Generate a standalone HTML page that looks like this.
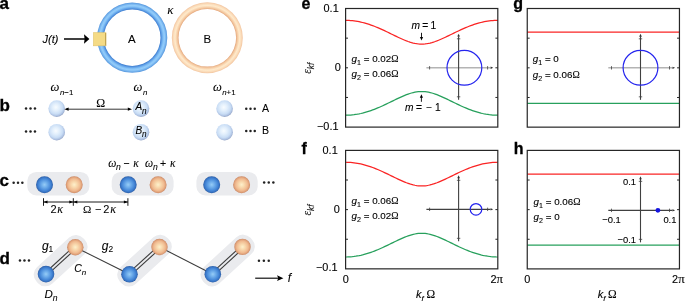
<!DOCTYPE html>
<html><head><meta charset="utf-8"><style>
html,body{margin:0;padding:0;background:#fff;}
svg{display:block;will-change:transform;font-family:"Liberation Sans",sans-serif;} text{stroke:#000;stroke-width:0.12px;} .L text{stroke-width:0.08px;} svg text[font-weight="bold"]{stroke-width:0.3px;}

</style></head><body>
<svg width="685" height="302" viewBox="0 0 685 302" font-family="Liberation Sans, sans-serif">
<defs>
<radialGradient id="sph" cx="0.45" cy="0.42" r="0.6">
 <stop offset="0" stop-color="#f8fcff"/><stop offset="0.35" stop-color="#e2effc"/><stop offset="0.68" stop-color="#c9ddf5"/><stop offset="0.86" stop-color="#afc3e3"/><stop offset="1" stop-color="#8d9dbf"/>
</radialGradient>
<radialGradient id="blu" cx="0.5" cy="0.5" r="0.5">
 <stop offset="0" stop-color="#96ccf6"/><stop offset="0.3" stop-color="#72b0ec"/><stop offset="0.7" stop-color="#4688d8"/><stop offset="0.9" stop-color="#3570c0"/><stop offset="1" stop-color="#2b5a9e"/>
</radialGradient>
<radialGradient id="org" cx="0.5" cy="0.5" r="0.5">
 <stop offset="0" stop-color="#fdf0cc"/><stop offset="0.3" stop-color="#f9dbb0"/><stop offset="0.7" stop-color="#f0ba90"/><stop offset="0.9" stop-color="#de9e76"/><stop offset="1" stop-color="#c48462"/>
</radialGradient>
</defs>
<g class="L">
<text x="-0.4" y="9.0" font-size="17" font-weight="bold">a</text>
<text x="42.5" y="42.6" font-size="11" font-style="italic">J(t)</text>
<line x1="64" y1="39" x2="85" y2="39" stroke="#000" stroke-width="1.5"/>
<path d="M84,34.2 L89.4,39 L84,43.8 L84.6,39 z" fill="#000"/>
<radialGradient id="rga" gradientUnits="userSpaceOnUse" cx="132.2" cy="37.7" r="35.1">
<stop offset="0.806" stop-color="#3f7fd0"/><stop offset="0.84" stop-color="#5d9de6"/><stop offset="0.885" stop-color="#84c2f6"/><stop offset="0.92" stop-color="#94ccfa"/><stop offset="0.96" stop-color="#76b4ee"/><stop offset="1" stop-color="#5494dc"/></radialGradient>
<radialGradient id="rgb" gradientUnits="userSpaceOnUse" cx="207.3" cy="37.8" r="35.5">
<stop offset="0.811" stop-color="#e4a67c"/><stop offset="0.835" stop-color="#f0c096"/><stop offset="0.875" stop-color="#fad8b4"/><stop offset="0.91" stop-color="#feeacb"/><stop offset="0.955" stop-color="#fbdcba"/><stop offset="1" stop-color="#f2c49e"/></radialGradient>
<path d="M97.1,37.7 a35.1,35.1 0 1,0 70.2,0 a35.1,35.1 0 1,0 -70.2,0 Z M103.89999999999999,37.7 a28.3,28.3 0 1,0 56.6,0 a28.3,28.3 0 1,0 -56.6,0 Z" fill-rule="evenodd" fill="url(#rga)"/>
<path d="M171.8,37.8 a35.5,35.5 0 1,0 71.0,0 a35.5,35.5 0 1,0 -71.0,0 Z M178.5,37.8 a28.8,28.8 0 1,0 57.6,0 a28.8,28.8 0 1,0 -57.6,0 Z" fill-rule="evenodd" fill="url(#rgb)"/>
<rect x="93.5" y="32.7" width="12.5" height="13.1" fill="#f5db86" stroke="#e2c36a" stroke-width="0.6"/>
<line x1="105.6" y1="33" x2="105.6" y2="45.6" stroke="#b89a48" stroke-width="0.9"/>
<text x="167.2" y="14" font-size="13" font-family="Liberation Serif, serif" font-style="italic">κ</text>
<text x="128" y="43.2" font-size="11.5" >A</text>
<text x="203.6" y="43.2" font-size="11.5" >B</text>
<text x="-0.6" y="110.9" font-size="17" font-weight="bold">b</text>
<circle cx="26.05" cy="108.5" r="1.25" fill="#222"/>
<circle cx="30.50" cy="108.5" r="1.25" fill="#222"/>
<circle cx="34.95" cy="108.5" r="1.25" fill="#222"/>
<circle cx="26.05" cy="131.4" r="1.25" fill="#222"/>
<circle cx="30.50" cy="131.4" r="1.25" fill="#222"/>
<circle cx="34.95" cy="131.4" r="1.25" fill="#222"/>
<circle cx="56.7" cy="108.6" r="8.3" fill="url(#sph)"/>
<circle cx="56.7" cy="132.2" r="8.3" fill="url(#sph)"/>
<circle cx="141" cy="108.6" r="8.3" fill="url(#sph)"/>
<circle cx="141" cy="132.2" r="8.3" fill="url(#sph)"/>
<circle cx="224.6" cy="108.6" r="8.3" fill="url(#sph)"/>
<circle cx="224.6" cy="132.2" r="8.3" fill="url(#sph)"/>
<circle cx="246.25" cy="108.7" r="1.25" fill="#222"/>
<circle cx="250.50" cy="108.7" r="1.25" fill="#222"/>
<circle cx="254.75" cy="108.7" r="1.25" fill="#222"/>
<circle cx="246.25" cy="131" r="1.25" fill="#222"/>
<circle cx="250.50" cy="131" r="1.25" fill="#222"/>
<circle cx="254.75" cy="131" r="1.25" fill="#222"/>
<text x="261.9" y="112" font-size="10.6" >A</text>
<text x="262.0" y="134.2" font-size="10.6" >B</text>
<text x="50.6" y="91.0" font-size="12.5" font-family="Liberation Serif, serif" font-style="italic">ω<tspan dy="3.9" dx="0.5" font-family="Liberation Sans, sans-serif" font-size="7.9">n<tspan font-style="normal">−1</tspan></tspan></text>
<text x="133.6" y="91.0" font-size="12.5" font-family="Liberation Serif, serif" font-style="italic">ω<tspan dy="3.9" dx="0.5" font-family="Liberation Sans, sans-serif" font-size="7.9">n</tspan></text>
<text x="212.9" y="91.0" font-size="12.5" font-family="Liberation Serif, serif" font-style="italic">ω<tspan dy="3.9" dx="0.5" font-family="Liberation Sans, sans-serif" font-size="7.9">n<tspan font-style="normal">+1</tspan></tspan></text>
<line x1="66" y1="109.2" x2="130" y2="109.2" stroke="#000" stroke-width="0.8"/>
<path d="M64.4,109.2 L68.6,107.6 L68.6,110.8 z" fill="#000"/><path d="M132,109.2 L127.8,107.6 L127.8,110.8 z" fill="#000"/>
<text x="96.2" y="107.1" font-size="12" font-family="Liberation Serif, serif">Ω</text>
<text x="135.4" y="110.3" font-size="10" font-style="italic">A<tspan dy="3.4" font-size="8.2">n</tspan></text>
<text x="135.4" y="133.5" font-size="10" font-style="italic">B<tspan dy="3.6" font-size="8.2">n</tspan></text>
<text x="-0.6" y="185.8" font-size="17" font-weight="bold">c</text>
<circle cx="13.65" cy="182.7" r="1.25" fill="#222"/>
<circle cx="18.00" cy="182.7" r="1.25" fill="#222"/>
<circle cx="22.35" cy="182.7" r="1.25" fill="#222"/>
<rect x="27.3" y="171.9" width="62.1" height="23.6" rx="9" fill="#eaebee"/>
<rect x="111.7" y="171.9" width="61.9" height="23.6" rx="9" fill="#eaebee"/>
<rect x="196.4" y="171.9" width="61.3" height="23.6" rx="9" fill="#eaebee"/>
<circle cx="44.5" cy="184.7" r="8.5" fill="url(#blu)"/>
<circle cx="74.2" cy="184.7" r="8.5" fill="url(#org)"/>
<circle cx="128.2" cy="184.7" r="8.5" fill="url(#blu)"/>
<circle cx="158.1" cy="184.7" r="8.5" fill="url(#org)"/>
<circle cx="211.7" cy="184.7" r="8.5" fill="url(#blu)"/>
<circle cx="241.6" cy="184.7" r="8.5" fill="url(#org)"/>
<circle cx="264.15" cy="182.4" r="1.25" fill="#222"/>
<circle cx="268.75" cy="182.4" r="1.25" fill="#222"/>
<circle cx="273.35" cy="182.4" r="1.25" fill="#222"/>
<g stroke="#000" stroke-width="0.9">
<line x1="43.5" y1="202" x2="127.9" y2="202"/>
<line x1="43.5" y1="198.2" x2="43.5" y2="205.8"/>
<line x1="73.3" y1="198.2" x2="73.3" y2="205.8"/>
<line x1="127.9" y1="198.2" x2="127.9" y2="205.8"/>
</g>
<path d="M43.5,202 L47.5,200.4 L47.5,203.6 z" fill="#000"/>
<path d="M73.3,202 L69.3,200.4 L69.3,203.6 z" fill="#000"/>
<path d="M73.3,202 L77.3,200.4 L77.3,203.6 z" fill="#000"/>
<path d="M127.9,202 L123.9,200.4 L123.9,203.6 z" fill="#000"/>
<text x="50.6" y="213.3" font-size="11" >2</text>
<text x="57.2" y="213.3" font-size="12" font-family="Liberation Serif, serif" font-style="italic">κ</text>
<text x="82.9" y="213.3" font-size="11.2" font-family="Liberation Serif, serif">Ω</text>
<text x="95.0" y="213.3" font-size="11" >−</text>
<text x="103.3" y="213.3" font-size="11" >2</text>
<text x="110.2" y="213.3" font-size="12" font-family="Liberation Serif, serif" font-style="italic">κ</text>
<text x="108.2" y="166.9" font-size="11.5" font-family="Liberation Serif, serif" font-style="italic">ω</text>
<text x="116.10000000000001" y="169.8" font-size="8.6" font-style="italic">n</text>
<text x="123.2" y="166.9" font-size="10.5" >−</text>
<text x="133.2" y="166.9" font-size="11.5" font-family="Liberation Serif, serif" font-style="italic">κ</text>
<text x="145.1" y="166.9" font-size="11.5" font-family="Liberation Serif, serif" font-style="italic">ω</text>
<text x="153.0" y="169.8" font-size="8.6" font-style="italic">n</text>
<text x="160.1" y="166.9" font-size="10.5" >+</text>
<text x="170.1" y="166.9" font-size="11.5" font-family="Liberation Serif, serif" font-style="italic">κ</text>
<text x="-0.6" y="264.1" font-size="17" font-weight="bold">d</text>
<circle cx="19.95" cy="260.5" r="1.25" fill="#222"/>
<circle cx="24.45" cy="260.5" r="1.25" fill="#222"/>
<circle cx="28.95" cy="260.5" r="1.25" fill="#222"/>
<rect x="28.76" y="249.40" width="63.78" height="22.5" rx="10" fill="#eaebee" transform="rotate(-42.55 60.65 260.65)"/>
<rect x="112.22" y="249.40" width="64.56" height="22.5" rx="10" fill="#eaebee" transform="rotate(-42.30 144.50 260.65)"/>
<rect x="195.48" y="249.30" width="64.34" height="22.5" rx="10" fill="#eaebee" transform="rotate(-42.59 227.65 260.55)"/>
<line x1="44.99" y1="273.00" x2="74.29" y2="246.10" stroke="#3a3a3a" stroke-width="1.1"/>
<line x1="47.01" y1="275.20" x2="76.31" y2="248.30" stroke="#3a3a3a" stroke-width="1.1"/>
<line x1="75.3" y1="247.2" x2="129.5" y2="274.3" stroke="#3a3a3a" stroke-width="1.05"/>
<line x1="128.49" y1="273.19" x2="158.49" y2="245.89" stroke="#3a3a3a" stroke-width="1.1"/>
<line x1="130.51" y1="275.41" x2="160.51" y2="248.11" stroke="#3a3a3a" stroke-width="1.1"/>
<line x1="159.5" y1="247.0" x2="212.8" y2="274.2" stroke="#3a3a3a" stroke-width="1.05"/>
<line x1="211.78" y1="273.10" x2="241.48" y2="245.80" stroke="#3a3a3a" stroke-width="1.1"/>
<line x1="213.82" y1="275.30" x2="243.52" y2="248.00" stroke="#3a3a3a" stroke-width="1.1"/>
<circle cx="46" cy="274.1" r="8.3" fill="url(#blu)"/>
<circle cx="75.3" cy="247.2" r="8.2" fill="url(#org)"/>
<circle cx="129.5" cy="274.3" r="8.3" fill="url(#blu)"/>
<circle cx="159.5" cy="247.0" r="8.2" fill="url(#org)"/>
<circle cx="212.8" cy="274.2" r="8.3" fill="url(#blu)"/>
<circle cx="242.5" cy="246.9" r="8.2" fill="url(#org)"/>
<text x="41.9" y="250" font-size="12" font-style="italic">g<tspan dy="2.4" font-size="8.4" font-style="normal">1</tspan></text>
<text x="101.7" y="250" font-size="12" font-style="italic">g<tspan dy="2.4" font-size="8.4" font-style="normal">2</tspan></text>
<text x="74.2" y="272" font-size="10.5" font-style="italic">C<tspan dy="2.5" font-size="8">n</tspan></text>
<text x="44.4" y="298" font-size="11.5" font-style="italic">D<tspan dy="3.3" font-size="8.6">n</tspan></text>
<circle cx="258.95" cy="260.8" r="1.25" fill="#222"/>
<circle cx="263.85" cy="260.8" r="1.25" fill="#222"/>
<circle cx="268.75" cy="260.8" r="1.25" fill="#222"/>
<line x1="255.2" y1="278.2" x2="279" y2="278.2" stroke="#111" stroke-width="1.2"/>
<path d="M283.4,278.2 L277,275.3 L278.3,278.2 L277,281.1 z" fill="#000"/>
<text x="287.7" y="281.9" font-size="12" font-style="italic">f</text>
</g>
<text x="301.6" y="8.7" font-size="16" font-weight="bold">e</text>
<path d="M345.60,20.36 L347.29,20.38 L348.98,20.45 L350.67,20.55 L352.36,20.71 L354.06,20.90 L355.75,21.14 L357.44,21.41 L359.13,21.73 L360.82,22.09 L362.51,22.49 L364.20,22.93 L365.89,23.40 L367.58,23.91 L369.28,24.46 L370.97,25.04 L372.66,25.65 L374.35,26.29 L376.04,26.97 L377.73,27.67 L379.42,28.39 L381.11,29.14 L382.80,29.90 L384.50,30.69 L386.19,31.49 L387.88,32.30 L389.57,33.12 L391.26,33.95 L392.95,34.78 L394.64,35.60 L396.33,36.42 L398.02,37.23 L399.72,38.02 L401.41,38.78 L403.10,39.52 L404.79,40.23 L406.48,40.90 L408.17,41.52 L409.86,42.08 L411.55,42.59 L413.24,43.03 L414.94,43.40 L416.63,43.69 L418.32,43.91 L420.01,44.04 L421.70,44.08 L423.39,44.04 L425.08,43.91 L426.77,43.69 L428.46,43.40 L430.16,43.03 L431.85,42.59 L433.54,42.08 L435.23,41.52 L436.92,40.90 L438.61,40.23 L440.30,39.52 L441.99,38.78 L443.68,38.02 L445.38,37.23 L447.07,36.42 L448.76,35.60 L450.45,34.78 L452.14,33.95 L453.83,33.12 L455.52,32.30 L457.21,31.49 L458.90,30.69 L460.60,29.90 L462.29,29.14 L463.98,28.39 L465.67,27.67 L467.36,26.97 L469.05,26.29 L470.74,25.65 L472.43,25.04 L474.12,24.46 L475.82,23.91 L477.51,23.40 L479.20,22.93 L480.89,22.49 L482.58,22.09 L484.27,21.73 L485.96,21.41 L487.65,21.14 L489.34,20.90 L491.04,20.71 L492.73,20.55 L494.42,20.45 L496.11,20.38 L497.80,20.36" fill="none" stroke="#fa2424" stroke-width="1.25"/>
<path d="M345.60,115.24 L347.29,115.22 L348.98,115.15 L350.67,115.05 L352.36,114.89 L354.06,114.70 L355.75,114.46 L357.44,114.19 L359.13,113.87 L360.82,113.51 L362.51,113.11 L364.20,112.67 L365.89,112.20 L367.58,111.69 L369.28,111.14 L370.97,110.56 L372.66,109.95 L374.35,109.31 L376.04,108.63 L377.73,107.93 L379.42,107.21 L381.11,106.46 L382.80,105.70 L384.50,104.91 L386.19,104.11 L387.88,103.30 L389.57,102.48 L391.26,101.65 L392.95,100.82 L394.64,100.00 L396.33,99.18 L398.02,98.37 L399.72,97.58 L401.41,96.82 L403.10,96.08 L404.79,95.37 L406.48,94.70 L408.17,94.08 L409.86,93.52 L411.55,93.01 L413.24,92.57 L414.94,92.20 L416.63,91.91 L418.32,91.69 L420.01,91.56 L421.70,91.52 L423.39,91.56 L425.08,91.69 L426.77,91.91 L428.46,92.20 L430.16,92.57 L431.85,93.01 L433.54,93.52 L435.23,94.08 L436.92,94.70 L438.61,95.37 L440.30,96.08 L441.99,96.82 L443.68,97.58 L445.38,98.37 L447.07,99.18 L448.76,100.00 L450.45,100.82 L452.14,101.65 L453.83,102.48 L455.52,103.30 L457.21,104.11 L458.90,104.91 L460.60,105.70 L462.29,106.46 L463.98,107.21 L465.67,107.93 L467.36,108.63 L469.05,109.31 L470.74,109.95 L472.43,110.56 L474.12,111.14 L475.82,111.69 L477.51,112.20 L479.20,112.67 L480.89,113.11 L482.58,113.51 L484.27,113.87 L485.96,114.19 L487.65,114.46 L489.34,114.70 L491.04,114.89 L492.73,115.05 L494.42,115.15 L496.11,115.22 L497.80,115.24" fill="none" stroke="#27a05c" stroke-width="1.25"/>
<rect x="345.6" y="8.5" width="152.20" height="118.60" fill="none" stroke="#262626" stroke-width="1.2"/>
<line x1="345.6" y1="38.15" x2="348.0" y2="38.15" stroke="#262626" stroke-width="1"/>
<line x1="495.40000000000003" y1="38.15" x2="497.8" y2="38.15" stroke="#262626" stroke-width="1"/>
<line x1="345.6" y1="67.80" x2="348.0" y2="67.80" stroke="#262626" stroke-width="1"/>
<line x1="495.40000000000003" y1="67.80" x2="497.8" y2="67.80" stroke="#262626" stroke-width="1"/>
<line x1="345.6" y1="97.45" x2="348.0" y2="97.45" stroke="#262626" stroke-width="1"/>
<line x1="495.40000000000003" y1="97.45" x2="497.8" y2="97.45" stroke="#262626" stroke-width="1"/>
<text x="338.7" y="11.8" font-size="10.9" text-anchor="end">0.1</text>
<text x="340.8" y="71.3" font-size="10.9" text-anchor="end">0</text>
<text x="338.5" y="130.3" font-size="10.9" text-anchor="end">−0.1</text>
<text transform="translate(311.1 73.7) rotate(-90)" font-size="11.5" font-family="Liberation Serif, serif" font-style="italic" fill="#222">ε<tspan dy="3" font-family="Liberation Sans, sans-serif" font-size="8.4">kf</tspan></text>
<line x1="426.40000000000003" y1="67.8" x2="490.6" y2="67.8" stroke="#b4b4b4" stroke-width="1.5"/>
<path d="M493.20000000000005,67.8 L490.6,66.6 L490.6,69.0 z" fill="#303030"/>
<line x1="429.6" y1="66.1" x2="429.6" y2="69.5" stroke="#404040" stroke-width="0.8"/>
<line x1="456.90000000000003" y1="38.8" x2="460.3" y2="38.8" stroke="#404040" stroke-width="0.8"/>
<line x1="487.6" y1="66.1" x2="487.6" y2="69.5" stroke="#404040" stroke-width="0.8"/>
<line x1="456.90000000000003" y1="96.8" x2="460.3" y2="96.8" stroke="#404040" stroke-width="0.8"/>
<line x1="458.6" y1="36.3" x2="458.6" y2="99.8" stroke="#404040" stroke-width="1.1"/>
<path d="M458.6,33.8 L457.3,36.599999999999994 L459.90000000000003,36.599999999999994 z" fill="#303030"/>
<circle cx="464.40" cy="67.8" r="17.40" fill="none" stroke="#2424ee" stroke-width="1.2"/>
<text x="301.6" y="154.2" font-size="16" font-weight="bold">f</text>
<path d="M345.60,162.25 L347.29,162.27 L348.98,162.33 L350.67,162.44 L352.36,162.59 L354.06,162.78 L355.75,163.02 L357.44,163.30 L359.13,163.61 L360.82,163.97 L362.51,164.37 L364.20,164.81 L365.89,165.28 L367.58,165.79 L369.28,166.34 L370.97,166.92 L372.66,167.53 L374.35,168.17 L376.04,168.84 L377.73,169.54 L379.42,170.26 L381.11,171.01 L382.80,171.78 L384.50,172.56 L386.19,173.36 L387.88,174.17 L389.57,174.99 L391.26,175.82 L392.95,176.64 L394.64,177.47 L396.33,178.29 L398.02,179.09 L399.72,179.88 L401.41,180.65 L403.10,181.39 L404.79,182.09 L406.48,182.76 L408.17,183.37 L409.86,183.94 L411.55,184.45 L413.24,184.89 L414.94,185.26 L416.63,185.55 L418.32,185.76 L420.01,185.89 L421.70,185.94 L423.39,185.89 L425.08,185.76 L426.77,185.55 L428.46,185.26 L430.16,184.89 L431.85,184.45 L433.54,183.94 L435.23,183.37 L436.92,182.76 L438.61,182.09 L440.30,181.39 L441.99,180.65 L443.68,179.88 L445.38,179.09 L447.07,178.29 L448.76,177.47 L450.45,176.64 L452.14,175.82 L453.83,174.99 L455.52,174.17 L457.21,173.36 L458.90,172.56 L460.60,171.78 L462.29,171.01 L463.98,170.26 L465.67,169.54 L467.36,168.84 L469.05,168.17 L470.74,167.53 L472.43,166.92 L474.12,166.34 L475.82,165.79 L477.51,165.28 L479.20,164.81 L480.89,164.37 L482.58,163.97 L484.27,163.61 L485.96,163.30 L487.65,163.02 L489.34,162.78 L491.04,162.59 L492.73,162.44 L494.42,162.33 L496.11,162.27 L497.80,162.25" fill="none" stroke="#fa2424" stroke-width="1.25"/>
<path d="M345.60,257.00 L347.29,256.98 L348.98,256.92 L350.67,256.81 L352.36,256.66 L354.06,256.47 L355.75,256.23 L357.44,255.95 L359.13,255.64 L360.82,255.28 L362.51,254.88 L364.20,254.44 L365.89,253.97 L367.58,253.46 L369.28,252.91 L370.97,252.33 L372.66,251.72 L374.35,251.08 L376.04,250.41 L377.73,249.71 L379.42,248.99 L381.11,248.24 L382.80,247.47 L384.50,246.69 L386.19,245.89 L387.88,245.08 L389.57,244.26 L391.26,243.43 L392.95,242.61 L394.64,241.78 L396.33,240.96 L398.02,240.16 L399.72,239.37 L401.41,238.60 L403.10,237.86 L404.79,237.16 L406.48,236.49 L408.17,235.88 L409.86,235.31 L411.55,234.80 L413.24,234.36 L414.94,233.99 L416.63,233.70 L418.32,233.49 L420.01,233.36 L421.70,233.31 L423.39,233.36 L425.08,233.49 L426.77,233.70 L428.46,233.99 L430.16,234.36 L431.85,234.80 L433.54,235.31 L435.23,235.88 L436.92,236.49 L438.61,237.16 L440.30,237.86 L441.99,238.60 L443.68,239.37 L445.38,240.16 L447.07,240.96 L448.76,241.78 L450.45,242.61 L452.14,243.43 L453.83,244.26 L455.52,245.08 L457.21,245.89 L458.90,246.69 L460.60,247.47 L462.29,248.24 L463.98,248.99 L465.67,249.71 L467.36,250.41 L469.05,251.08 L470.74,251.72 L472.43,252.33 L474.12,252.91 L475.82,253.46 L477.51,253.97 L479.20,254.44 L480.89,254.88 L482.58,255.28 L484.27,255.64 L485.96,255.95 L487.65,256.23 L489.34,256.47 L491.04,256.66 L492.73,256.81 L494.42,256.92 L496.11,256.98 L497.80,257.00" fill="none" stroke="#27a05c" stroke-width="1.25"/>
<rect x="345.6" y="150.4" width="152.20" height="118.45" fill="none" stroke="#262626" stroke-width="1.2"/>
<line x1="345.6" y1="180.01" x2="348.0" y2="180.01" stroke="#262626" stroke-width="1"/>
<line x1="495.40000000000003" y1="180.01" x2="497.8" y2="180.01" stroke="#262626" stroke-width="1"/>
<line x1="345.6" y1="209.62" x2="348.0" y2="209.62" stroke="#262626" stroke-width="1"/>
<line x1="495.40000000000003" y1="209.62" x2="497.8" y2="209.62" stroke="#262626" stroke-width="1"/>
<line x1="345.6" y1="239.24" x2="348.0" y2="239.24" stroke="#262626" stroke-width="1"/>
<line x1="495.40000000000003" y1="239.24" x2="497.8" y2="239.24" stroke="#262626" stroke-width="1"/>
<text x="337.7" y="153.8" font-size="10.9" text-anchor="end">0.1</text>
<text x="339.9" y="212.7" font-size="10.9" text-anchor="end">0</text>
<text x="337.5" y="271.3" font-size="10.9" text-anchor="end">−0.1</text>
<text transform="translate(311.1 215.5) rotate(-90)" font-size="11.5" font-family="Liberation Serif, serif" font-style="italic" fill="#222">ε<tspan dy="3" font-family="Liberation Sans, sans-serif" font-size="8.4">kf</tspan></text>
<text x="345.70000000000005" y="283.2" font-size="10.9" text-anchor="middle">0</text>
<text x="490.4" y="283.2" font-size="10.9">2<tspan font-family="Liberation Serif, serif" font-size="12.8">π</tspan></text>
<text x="416.1" y="298.2" font-size="11" font-style="italic">k<tspan dy="2.4" font-size="8">f</tspan></text>
<text x="426.4" y="298.2" font-size="11.6" font-family="Liberation Serif, serif">Ω</text>
<line x1="426.40000000000003" y1="209.325" x2="490.6" y2="209.325" stroke="#404040" stroke-width="1.1"/>
<path d="M493.20000000000005,209.325 L490.6,208.125 L490.6,210.52499999999998 z" fill="#303030"/>
<line x1="429.6" y1="207.625" x2="429.6" y2="211.02499999999998" stroke="#404040" stroke-width="0.8"/>
<line x1="456.90000000000003" y1="180.325" x2="460.3" y2="180.325" stroke="#404040" stroke-width="0.8"/>
<line x1="487.6" y1="207.625" x2="487.6" y2="211.02499999999998" stroke="#404040" stroke-width="0.8"/>
<line x1="456.90000000000003" y1="238.325" x2="460.3" y2="238.325" stroke="#404040" stroke-width="0.8"/>
<line x1="458.6" y1="177.825" x2="458.6" y2="241.325" stroke="#404040" stroke-width="1.1"/>
<path d="M458.6,175.325 L457.3,178.125 L459.90000000000003,178.125 z" fill="#303030"/>
<circle cx="476.00" cy="209.325" r="5.80" fill="none" stroke="#2424ee" stroke-width="1.2"/>
<text x="513.3" y="9.2" font-size="16" font-weight="bold">g</text>
<path d="M527.25,32.23 L528.94,32.23 L530.63,32.23 L532.32,32.23 L534.01,32.23 L535.71,32.23 L537.40,32.23 L539.09,32.23 L540.78,32.23 L542.47,32.23 L544.16,32.23 L545.85,32.23 L547.54,32.23 L549.23,32.23 L550.93,32.23 L552.62,32.23 L554.31,32.23 L556.00,32.23 L557.69,32.23 L559.38,32.23 L561.07,32.23 L562.76,32.23 L564.45,32.23 L566.15,32.23 L567.84,32.23 L569.53,32.23 L571.22,32.23 L572.91,32.23 L574.60,32.23 L576.29,32.23 L577.98,32.23 L579.67,32.23 L581.37,32.23 L583.06,32.23 L584.75,32.23 L586.44,32.23 L588.13,32.23 L589.82,32.23 L591.51,32.23 L593.20,32.23 L594.89,32.23 L596.59,32.23 L598.28,32.23 L599.97,32.23 L601.66,32.23 L603.35,32.23 L605.04,32.23 L606.73,32.23 L608.42,32.23 L610.11,32.23 L611.81,32.23 L613.50,32.23 L615.19,32.23 L616.88,32.23 L618.57,32.23 L620.26,32.23 L621.95,32.23 L623.64,32.23 L625.33,32.23 L627.03,32.23 L628.72,32.23 L630.41,32.23 L632.10,32.23 L633.79,32.23 L635.48,32.23 L637.17,32.23 L638.86,32.23 L640.55,32.23 L642.25,32.23 L643.94,32.23 L645.63,32.23 L647.32,32.23 L649.01,32.23 L650.70,32.23 L652.39,32.23 L654.08,32.23 L655.77,32.23 L657.47,32.23 L659.16,32.23 L660.85,32.23 L662.54,32.23 L664.23,32.23 L665.92,32.23 L667.61,32.23 L669.30,32.23 L670.99,32.23 L672.69,32.23 L674.38,32.23 L676.07,32.23 L677.76,32.23 L679.45,32.23" fill="none" stroke="#fa2424" stroke-width="1.25"/>
<path d="M527.25,103.42 L528.94,103.42 L530.63,103.42 L532.32,103.42 L534.01,103.42 L535.71,103.42 L537.40,103.42 L539.09,103.42 L540.78,103.42 L542.47,103.42 L544.16,103.42 L545.85,103.42 L547.54,103.42 L549.23,103.42 L550.93,103.42 L552.62,103.42 L554.31,103.42 L556.00,103.42 L557.69,103.42 L559.38,103.42 L561.07,103.42 L562.76,103.42 L564.45,103.42 L566.15,103.42 L567.84,103.42 L569.53,103.42 L571.22,103.42 L572.91,103.42 L574.60,103.42 L576.29,103.42 L577.98,103.42 L579.67,103.42 L581.37,103.42 L583.06,103.42 L584.75,103.42 L586.44,103.42 L588.13,103.42 L589.82,103.42 L591.51,103.42 L593.20,103.42 L594.89,103.42 L596.59,103.42 L598.28,103.42 L599.97,103.42 L601.66,103.42 L603.35,103.42 L605.04,103.42 L606.73,103.42 L608.42,103.42 L610.11,103.42 L611.81,103.42 L613.50,103.42 L615.19,103.42 L616.88,103.42 L618.57,103.42 L620.26,103.42 L621.95,103.42 L623.64,103.42 L625.33,103.42 L627.03,103.42 L628.72,103.42 L630.41,103.42 L632.10,103.42 L633.79,103.42 L635.48,103.42 L637.17,103.42 L638.86,103.42 L640.55,103.42 L642.25,103.42 L643.94,103.42 L645.63,103.42 L647.32,103.42 L649.01,103.42 L650.70,103.42 L652.39,103.42 L654.08,103.42 L655.77,103.42 L657.47,103.42 L659.16,103.42 L660.85,103.42 L662.54,103.42 L664.23,103.42 L665.92,103.42 L667.61,103.42 L669.30,103.42 L670.99,103.42 L672.69,103.42 L674.38,103.42 L676.07,103.42 L677.76,103.42 L679.45,103.42" fill="none" stroke="#27a05c" stroke-width="1.25"/>
<rect x="527.25" y="8.5" width="152.20" height="118.65" fill="none" stroke="#262626" stroke-width="1.2"/>
<line x1="527.25" y1="38.16" x2="529.65" y2="38.16" stroke="#262626" stroke-width="1"/>
<line x1="677.0500000000001" y1="38.16" x2="679.45" y2="38.16" stroke="#262626" stroke-width="1"/>
<line x1="527.25" y1="67.83" x2="529.65" y2="67.83" stroke="#262626" stroke-width="1"/>
<line x1="677.0500000000001" y1="67.83" x2="679.45" y2="67.83" stroke="#262626" stroke-width="1"/>
<line x1="527.25" y1="97.49" x2="529.65" y2="97.49" stroke="#262626" stroke-width="1"/>
<line x1="677.0500000000001" y1="97.49" x2="679.45" y2="97.49" stroke="#262626" stroke-width="1"/>
<line x1="608.3" y1="67.825" x2="672.5" y2="67.825" stroke="#b4b4b4" stroke-width="1.5"/>
<path d="M675.1,67.825 L672.5,66.625 L672.5,69.025 z" fill="#303030"/>
<line x1="611.5" y1="66.125" x2="611.5" y2="69.525" stroke="#404040" stroke-width="0.8"/>
<line x1="638.8" y1="38.825" x2="642.2" y2="38.825" stroke="#404040" stroke-width="0.8"/>
<line x1="669.5" y1="66.125" x2="669.5" y2="69.525" stroke="#404040" stroke-width="0.8"/>
<line x1="638.8" y1="96.825" x2="642.2" y2="96.825" stroke="#404040" stroke-width="0.8"/>
<line x1="640.5" y1="36.325" x2="640.5" y2="99.825" stroke="#404040" stroke-width="1.1"/>
<path d="M640.5,33.825 L639.2,36.625 L641.8,36.625 z" fill="#303030"/>
<circle cx="640.50" cy="67.825" r="17.40" fill="none" stroke="#2424ee" stroke-width="1.2"/>
<text x="513.8" y="153.6" font-size="16" font-weight="bold">h</text>
<path d="M527.25,174.10 L528.94,174.10 L530.63,174.10 L532.32,174.10 L534.01,174.10 L535.71,174.10 L537.40,174.10 L539.09,174.10 L540.78,174.10 L542.47,174.10 L544.16,174.10 L545.85,174.10 L547.54,174.10 L549.23,174.10 L550.93,174.10 L552.62,174.10 L554.31,174.10 L556.00,174.10 L557.69,174.10 L559.38,174.10 L561.07,174.10 L562.76,174.10 L564.45,174.10 L566.15,174.10 L567.84,174.10 L569.53,174.10 L571.22,174.10 L572.91,174.10 L574.60,174.10 L576.29,174.10 L577.98,174.10 L579.67,174.10 L581.37,174.10 L583.06,174.10 L584.75,174.10 L586.44,174.10 L588.13,174.10 L589.82,174.10 L591.51,174.10 L593.20,174.10 L594.89,174.10 L596.59,174.10 L598.28,174.10 L599.97,174.10 L601.66,174.10 L603.35,174.10 L605.04,174.10 L606.73,174.10 L608.42,174.10 L610.11,174.10 L611.81,174.10 L613.50,174.10 L615.19,174.10 L616.88,174.10 L618.57,174.10 L620.26,174.10 L621.95,174.10 L623.64,174.10 L625.33,174.10 L627.03,174.10 L628.72,174.10 L630.41,174.10 L632.10,174.10 L633.79,174.10 L635.48,174.10 L637.17,174.10 L638.86,174.10 L640.55,174.10 L642.25,174.10 L643.94,174.10 L645.63,174.10 L647.32,174.10 L649.01,174.10 L650.70,174.10 L652.39,174.10 L654.08,174.10 L655.77,174.10 L657.47,174.10 L659.16,174.10 L660.85,174.10 L662.54,174.10 L664.23,174.10 L665.92,174.10 L667.61,174.10 L669.30,174.10 L670.99,174.10 L672.69,174.10 L674.38,174.10 L676.07,174.10 L677.76,174.10 L679.45,174.10" fill="none" stroke="#fa2424" stroke-width="1.25"/>
<path d="M527.25,245.20 L528.94,245.20 L530.63,245.20 L532.32,245.20 L534.01,245.20 L535.71,245.20 L537.40,245.20 L539.09,245.20 L540.78,245.20 L542.47,245.20 L544.16,245.20 L545.85,245.20 L547.54,245.20 L549.23,245.20 L550.93,245.20 L552.62,245.20 L554.31,245.20 L556.00,245.20 L557.69,245.20 L559.38,245.20 L561.07,245.20 L562.76,245.20 L564.45,245.20 L566.15,245.20 L567.84,245.20 L569.53,245.20 L571.22,245.20 L572.91,245.20 L574.60,245.20 L576.29,245.20 L577.98,245.20 L579.67,245.20 L581.37,245.20 L583.06,245.20 L584.75,245.20 L586.44,245.20 L588.13,245.20 L589.82,245.20 L591.51,245.20 L593.20,245.20 L594.89,245.20 L596.59,245.20 L598.28,245.20 L599.97,245.20 L601.66,245.20 L603.35,245.20 L605.04,245.20 L606.73,245.20 L608.42,245.20 L610.11,245.20 L611.81,245.20 L613.50,245.20 L615.19,245.20 L616.88,245.20 L618.57,245.20 L620.26,245.20 L621.95,245.20 L623.64,245.20 L625.33,245.20 L627.03,245.20 L628.72,245.20 L630.41,245.20 L632.10,245.20 L633.79,245.20 L635.48,245.20 L637.17,245.20 L638.86,245.20 L640.55,245.20 L642.25,245.20 L643.94,245.20 L645.63,245.20 L647.32,245.20 L649.01,245.20 L650.70,245.20 L652.39,245.20 L654.08,245.20 L655.77,245.20 L657.47,245.20 L659.16,245.20 L660.85,245.20 L662.54,245.20 L664.23,245.20 L665.92,245.20 L667.61,245.20 L669.30,245.20 L670.99,245.20 L672.69,245.20 L674.38,245.20 L676.07,245.20 L677.76,245.20 L679.45,245.20" fill="none" stroke="#27a05c" stroke-width="1.25"/>
<rect x="527.25" y="150.4" width="152.20" height="118.50" fill="none" stroke="#262626" stroke-width="1.2"/>
<line x1="527.25" y1="180.02" x2="529.65" y2="180.02" stroke="#262626" stroke-width="1"/>
<line x1="677.0500000000001" y1="180.02" x2="679.45" y2="180.02" stroke="#262626" stroke-width="1"/>
<line x1="527.25" y1="209.65" x2="529.65" y2="209.65" stroke="#262626" stroke-width="1"/>
<line x1="677.0500000000001" y1="209.65" x2="679.45" y2="209.65" stroke="#262626" stroke-width="1"/>
<line x1="527.25" y1="239.27" x2="529.65" y2="239.27" stroke="#262626" stroke-width="1"/>
<line x1="677.0500000000001" y1="239.27" x2="679.45" y2="239.27" stroke="#262626" stroke-width="1"/>
<text x="527.35" y="283.2" font-size="10.9" text-anchor="middle">0</text>
<text x="672.1" y="283.2" font-size="10.9">2<tspan font-family="Liberation Serif, serif" font-size="12.8">π</tspan></text>
<text x="597.8" y="298.2" font-size="11" font-style="italic">k<tspan dy="2.4" font-size="8">f</tspan></text>
<text x="608.1" y="298.2" font-size="11.6" font-family="Liberation Serif, serif">Ω</text>
<line x1="608.3" y1="210.34999999999997" x2="672.5" y2="210.34999999999997" stroke="#404040" stroke-width="1.1"/>
<path d="M675.1,210.34999999999997 L672.5,209.14999999999998 L672.5,211.54999999999995 z" fill="#303030"/>
<line x1="611.5" y1="208.64999999999998" x2="611.5" y2="212.04999999999995" stroke="#404040" stroke-width="0.8"/>
<line x1="638.8" y1="181.34999999999997" x2="642.2" y2="181.34999999999997" stroke="#404040" stroke-width="0.8"/>
<line x1="669.5" y1="208.64999999999998" x2="669.5" y2="212.04999999999995" stroke="#404040" stroke-width="0.8"/>
<line x1="638.8" y1="239.34999999999997" x2="642.2" y2="239.34999999999997" stroke="#404040" stroke-width="0.8"/>
<line x1="640.5" y1="178.84999999999997" x2="640.5" y2="242.34999999999997" stroke="#404040" stroke-width="1.1"/>
<path d="M640.5,176.34999999999997 L639.2,179.14999999999998 L641.8,179.14999999999998 z" fill="#303030"/>
<circle cx="657.90" cy="210.34999999999997" r="2.4" fill="#1414e0"/>
<text x="351.6" y="62.2" font-size="9.8"><tspan font-style="italic">g</tspan><tspan dy="2.9" font-size="7.1">1</tspan><tspan dy="-2.9"> = 0.02<tspan font-family="Liberation Serif, serif">Ω</tspan></tspan></text>
<text x="351.6" y="77.4" font-size="9.8"><tspan font-style="italic">g</tspan><tspan dy="2.9" font-size="7.1">2</tspan><tspan dy="-2.9"> = 0.06<tspan font-family="Liberation Serif, serif">Ω</tspan></tspan></text>
<text x="351.6" y="204.0" font-size="9.8"><tspan font-style="italic">g</tspan><tspan dy="2.9" font-size="7.1">1</tspan><tspan dy="-2.9"> = 0.06<tspan font-family="Liberation Serif, serif">Ω</tspan></tspan></text>
<text x="351.6" y="219.2" font-size="9.8"><tspan font-style="italic">g</tspan><tspan dy="2.9" font-size="7.1">2</tspan><tspan dy="-2.9"> = 0.02<tspan font-family="Liberation Serif, serif">Ω</tspan></tspan></text>
<text x="532.8" y="62.4" font-size="9.8"><tspan font-style="italic">g</tspan><tspan dy="2.9" font-size="7.1">1</tspan><tspan dy="-2.9"> = 0</tspan></text>
<text x="532.8" y="77.6" font-size="9.8"><tspan font-style="italic">g</tspan><tspan dy="2.9" font-size="7.1">2</tspan><tspan dy="-2.9"> = 0.06<tspan font-family="Liberation Serif, serif">Ω</tspan></tspan></text>
<text x="533.6" y="205.0" font-size="9.8"><tspan font-style="italic">g</tspan><tspan dy="2.9" font-size="7.1">1</tspan><tspan dy="-2.9"> = 0.06<tspan font-family="Liberation Serif, serif">Ω</tspan></tspan></text>
<text x="533.6" y="220.2" font-size="9.8"><tspan font-style="italic">g</tspan><tspan dy="2.9" font-size="7.1">2</tspan><tspan dy="-2.9"> = 0</tspan></text>
<text x="411.4" y="28.8" font-size="10.2" font-style="italic">m</text><text x="422.3" y="28.8" font-size="10.2">=</text><text x="430.4" y="28.8" font-size="10.2">1</text>
<text x="404.9" y="110.6" font-size="10.2" font-style="italic">m</text><text x="415.9" y="110.6" font-size="10.2">=</text><text x="426.3" y="110.6" font-size="10.2">−</text><text x="435.0" y="110.6" font-size="10.2">1</text>
<line x1="421.5" y1="32.8" x2="421.5" y2="37.6" stroke="#000" stroke-width="0.9"/><path d="M421.5,40.6 L419.9,37 L423.1,37 z" fill="#000"/>
<line x1="421.4" y1="101.8" x2="421.4" y2="97" stroke="#000" stroke-width="0.9"/><path d="M421.4,94.2 L419.8,97.8 L423,97.8 z" fill="#000"/>
<text x="636" y="185" font-size="9.4" text-anchor="end">0.1</text>
<text x="636" y="242.6" font-size="9.4" text-anchor="end">−0.1</text>
<text x="602.2" y="222.5" font-size="9.4">−0.1</text>
<text x="663.4" y="222.5" font-size="9.4">0.1</text>
</svg>
</body></html>
